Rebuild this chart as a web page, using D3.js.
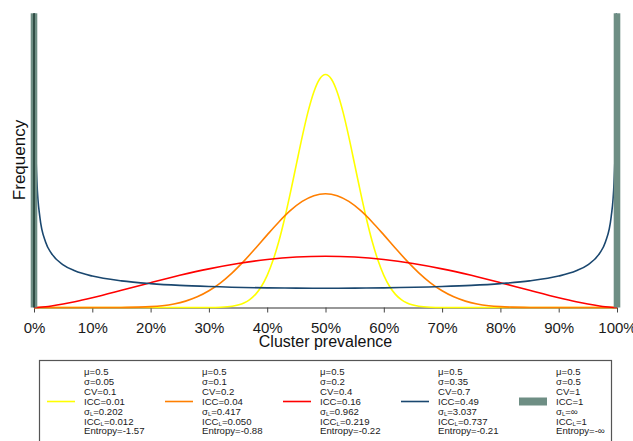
<!DOCTYPE html>
<html>
<head>
<meta charset="utf-8">
<script src="https://cdn.jsdelivr.net/npm/d3@7"></script>
<style>
  html, body { margin: 0; padding: 0; background: #fff; }
  svg { display: block; font-family: "Liberation Sans", Arial, Helvetica, sans-serif; }
</style>
</head>
<body>
<svg id="chart" width="633" height="441"></svg>
<script>
// Cluster prevalence distributions with mean prevalence 0.5.
// Each series: [cluster prevalence, frequency (density)].
const seriesICC001 = [
  [0, 0], [0.26, 0], [0.28, 0.0002], [0.30, 0.0017], [0.32, 0.0094], [0.34, 0.042],
  [0.36, 0.151], [0.37, 0.266], [0.38, 0.446], [0.39, 0.714], [0.40, 1.093],
  [0.41, 1.603], [0.42, 2.251], [0.43, 3.032], [0.44, 3.919], [0.45, 4.864],
  [0.46, 5.800], [0.47, 6.648], [0.48, 7.327], [0.49, 7.767], [0.50, 7.919],
  [0.51, 7.767], [0.52, 7.327], [0.53, 6.648], [0.54, 5.800], [0.55, 4.864],
  [0.56, 3.919], [0.57, 3.032], [0.58, 2.251], [0.59, 1.603], [0.60, 1.093],
  [0.61, 0.714], [0.62, 0.446], [0.63, 0.266], [0.64, 0.151], [0.66, 0.042],
  [0.68, 0.0094], [0.70, 0.0017], [0.72, 0.0002], [0.74, 0], [1, 0]
];
const seriesICC004 = [
  [0, 0], [0.10, 0.00005], [0.12, 0.0003], [0.14, 0.0013], [0.16, 0.0042], [0.18, 0.0118],
  [0.20, 0.0286], [0.22, 0.0616], [0.24, 0.121], [0.26, 0.217], [0.28, 0.363],
  [0.30, 0.568], [0.32, 0.840], [0.34, 1.179], [0.36, 1.576], [0.38, 2.014],
  [0.40, 2.469], [0.42, 2.908], [0.44, 3.298], [0.46, 3.605], [0.48, 3.801],
  [0.50, 3.868], [0.52, 3.801], [0.54, 3.605], [0.56, 3.298], [0.58, 2.908],
  [0.60, 2.469], [0.62, 2.014], [0.64, 1.576], [0.66, 1.179], [0.68, 0.840],
  [0.70, 0.568], [0.72, 0.363], [0.74, 0.217], [0.76, 0.121], [0.78, 0.0616],
  [0.80, 0.0286], [0.82, 0.0118], [0.84, 0.0042], [0.86, 0.0013], [0.88, 0.0003],
  [0.90, 0.00005], [1, 0]
];
const seriesICC016 = [
  [0, 0], [0.01, 0.0092], [0.02, 0.0278], [0.03, 0.0529], [0.05, 0.117], [0.07, 0.196],
  [0.10, 0.332], [0.15, 0.584], [0.20, 0.844], [0.25, 1.093], [0.30, 1.314],
  [0.35, 1.496], [0.40, 1.632], [0.45, 1.716], [0.50, 1.744], [0.55, 1.716],
  [0.60, 1.632], [0.65, 1.496], [0.70, 1.314], [0.75, 1.093], [0.80, 0.844],
  [0.85, 0.584], [0.90, 0.332], [0.93, 0.196], [0.95, 0.117], [0.97, 0.0529],
  [0.98, 0.0278], [0.99, 0.0092], [1, 0]
];
const seriesICC049 = [
  [0.0005, 12.89], [0.0008, 10.29], [0.001, 9.25], [0.002, 6.64], [0.005, 4.28],
  [0.01, 3.08], [0.02, 2.219], [0.03, 1.836], [0.05, 1.451], [0.07, 1.248],
  [0.10, 1.068], [0.15, 0.904], [0.20, 0.811], [0.25, 0.751], [0.30, 0.712],
  [0.40, 0.667], [0.45, 0.658], [0.50, 0.654], [0.55, 0.658], [0.60, 0.667],
  [0.70, 0.712], [0.75, 0.751], [0.80, 0.811], [0.85, 0.904], [0.90, 1.068],
  [0.93, 1.248], [0.95, 1.451], [0.97, 1.836], [0.98, 2.219], [0.99, 3.08],
  [0.995, 4.28], [0.998, 6.64], [0.999, 9.25], [0.9992, 10.29], [0.9995, 12.89]
];
// ICC = 1: all mass at 0% and 100%
const seriesICC1 = [0, 1];

const seriesColors = ["#ffff00", "#ff7f00", "#ff0000", "#1a476f", "#6e8e84"];
const xTicks = [0, 0.1, 0.2, 0.3, 0.4, 0.5, 0.6, 0.7, 0.8, 0.9, 1];
const xTitle = "Cluster prevalence";
const yTitle = "Frequency";

// Legend text, one array of lines per series ("_L" marks a subscript L)
const legendLines = [
  ["μ=0.5", "σ=0.05", "CV=0.1", "ICC=0.01", "σ_L=0.202", "ICC_L=0.012", "Entropy=-1.57"],
  ["μ=0.5", "σ=0.1", "CV=0.2", "ICC=0.04", "σ_L=0.417", "ICC_L=0.050", "Entropy=-0.88"],
  ["μ=0.5", "σ=0.2", "CV=0.4", "ICC=0.16", "σ_L=0.962", "ICC_L=0.219", "Entropy=-0.22"],
  ["μ=0.5", "σ=0.35", "CV=0.7", "ICC=0.49", "σ_L=3.037", "ICC_L=0.737", "Entropy=-0.21"],
  ["μ=0.5", "σ=0.5", "CV=1", "ICC=1", "σ_L=∞", "ICC_L=1", "Entropy=-∞"]
];

const svg = d3.select("#chart");

const x = d3.scaleLinear().domain([0, 1]).range([34, 617]);
const y = d3.scaleLinear().domain([0, 10]).range([307.5, 13.3]);

svg.append("defs").append("clipPath").attr("id", "plotClip")
  .append("rect")
  .attr("x", x(0)).attr("y", y(10))
  .attr("width", x(1) - x(0)).attr("height", y(0) - y(10) + 2);

// x axis
const xAxis = d3.axisBottom(x)
  .tickValues(xTicks)
  .tickFormat(d3.format(".0%"))
  .tickSize(5)
  .tickSizeOuter(0)
  .tickPadding(10);

const gx = svg.append("g")
  .attr("transform", `translate(0,${y(0)})`)
  .call(xAxis);
gx.select(".domain").attr("stroke", "#333").attr("stroke-width", 1.2);
gx.selectAll(".tick line").attr("stroke", "#444").attr("stroke-width", 1);
gx.selectAll(".tick text")
  .attr("fill", "#1a1a1a")
  .style("font-size", "15px")
  .style("font-family", "\"Liberation Sans\", Arial, sans-serif");

// density curves
const line = d3.line()
  .x(d => x(d[0]))
  .y(d => y(d[1]))
  .curve(d3.curveMonotoneX);

const curves = [seriesICC001, seriesICC004, seriesICC016, seriesICC049];
const plot = svg.append("g").attr("clip-path", "url(#plotClip)");
curves.forEach((s, i) => {
  plot.append("path")
    .datum(s)
    .attr("fill", "none")
    .attr("stroke", seriesColors[i])
    .attr("stroke-width", 1.6)
    .attr("d", line);
});

// point masses for ICC = 1
svg.append("g").selectAll("rect.mass")
  .data(seriesICC1)
  .join("rect")
  .attr("class", "mass")
  .attr("x", d => x(d) - 3.3)
  .attr("width", 6.6)
  .attr("y", y(10))
  .attr("height", y(0) - y(10))
  .attr("fill", seriesColors[4]);

// y axis line (no ticks or labels)
svg.append("line")
  .attr("x1", x(0)).attr("x2", x(0))
  .attr("y1", y(10)).attr("y2", y(0))
  .attr("stroke", "#2b4840")
  .attr("stroke-width", 1.8);

// axis titles
svg.append("text")
  .attr("x", (x(0) + x(1)) / 2)
  .attr("y", 347)
  .attr("text-anchor", "middle")
  .attr("fill", "#111")
  .style("font-size", "16px")
  .text(xTitle);

svg.append("text")
  .attr("transform", `translate(25,160) rotate(-90)`)
  .attr("text-anchor", "middle")
  .attr("fill", "#111")
  .style("font-size", "17px")
  .text(yTitle);

// legend
const legend = svg.append("g");
legend.append("rect")
  .attr("x", 39.5).attr("y", 360.5)
  .attr("width", 572).attr("height", 120)
  .attr("fill", "#fff")
  .attr("stroke", "#555")
  .attr("stroke-width", 1.2);

const entryStep = 118;
const keyY = 401.5;
legendLines.forEach((lines, i) => {
  const g = legend.append("g").attr("transform", `translate(${i * entryStep},0)`);
  if (i < 4) {
    g.append("line")
      .attr("x1", 47).attr("x2", 75)
      .attr("y1", keyY).attr("y2", keyY)
      .attr("stroke", seriesColors[i])
      .attr("stroke-width", 1.6);
  } else {
    g.append("rect")
      .attr("x", 47).attr("width", 28)
      .attr("y", keyY - 4).attr("height", 8)
      .attr("fill", seriesColors[i]);
  }
  lines.forEach((t, j) => {
    const txt = g.append("text")
      .attr("x", 84)
      .attr("y", 371.7 + j * 9.9)
      .attr("dy", "0.35em")
      .attr("fill", "#1a1a1a")
      .style("font-size", "9.6px");
    const parts = t.split("_L");
    if (parts.length === 2) {
      txt.append("tspan").text(parts[0]);
      txt.append("tspan").attr("dy", "1.5").style("font-size", "6px").text("L");
      txt.append("tspan").attr("dy", "-1.5").text(parts[1]);
    } else {
      txt.text(t);
    }
  });
});
</script>
</body>
</html>
